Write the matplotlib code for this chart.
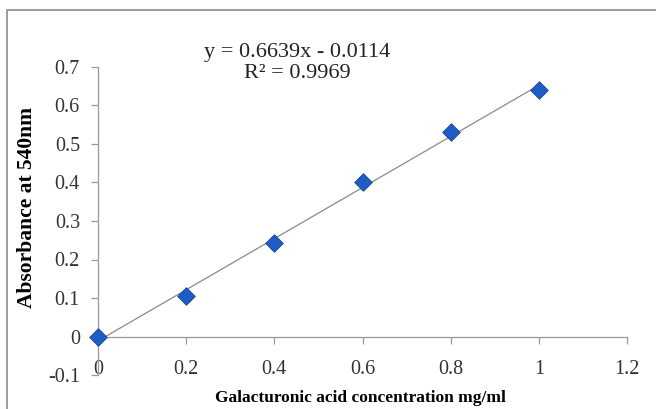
import numpy as np
import matplotlib.pyplot as plt
from matplotlib.patches import Rectangle

# standard curve data
conc = [0, 0.2, 0.4, 0.6, 0.8, 1.0]
absorb = [0.0, 0.104, 0.244, 0.400, 0.530, 0.641]
slope = 0.6639
intercept = -0.0114
r2 = 0.9969

xticks = [0, 0.2, 0.4, 0.6, 0.8, 1, 1.2]
yticks = [-0.1, 0, 0.1, 0.2, 0.3, 0.4, 0.5, 0.6, 0.7]

plt.rcParams['font.family'] = ['Liberation Serif', 'DejaVu Serif']

fig = plt.figure(figsize=(6.56, 4.09), dpi=100)
# chart area border
fig.patches.append(Rectangle((7/656, -0.1), 1.2, 1 - 10/409 + 0.1,
                             transform=fig.transFigure, fill=False,
                             edgecolor='#8c8c8c', lw=1.2))

ax = fig.add_axes([98/656, 1 - 375/409, (627 - 98)/656, (375 - 67)/409])

# trendline
xf = np.array([conc[0], conc[-1]])
ax.plot(xf, slope*xf + intercept, color='#8a8a8a', lw=0.9, zorder=2)
ax.scatter(conc, absorb, marker='D', s=80, color='#1f5cc4',
           edgecolor='#16449a', linewidth=0.6, zorder=3, clip_on=False)

ax.set_xlim(0, 1.2)
ax.set_ylim(-0.1, 0.7)
ax.set_xticks(xticks)
ax.set_xticklabels(['0', '0.2', '0.4', '0.6', '0.8', '1', '1.2'])
ax.set_yticks(yticks)
ax.set_yticklabels(['-0.1', '0', '0.1', '0.2', '0.3', '0.4', '0.5', '0.6', '0.7'])

for s in ['top', 'right']:
    ax.spines[s].set_visible(False)
ax.spines['bottom'].set_position(('data', 0))
for s in ['left', 'bottom']:
    ax.spines[s].set_color('#9a9a9a')
    ax.spines[s].set_linewidth(0.9)
ax.tick_params(axis='both', colors='#9a9a9a', labelcolor='#333333',
               labelsize=14.5, length=5, width=0.9, direction='out')
ax.tick_params(axis='x', pad=12)
ax.tick_params(axis='y', pad=8)

ax.text((297 - 98)/529, (375 - 63)/308, 'y = 0.6639x - 0.0114\nR² = 0.9969',
        transform=ax.transAxes, ha='center', va='center', fontsize=16,
        color='#222222', linespacing=1.1)

fig.text(27/656, 1 - 207/409, 'Absorbance at 540nm', rotation=90,
         ha='center', va='center', fontsize=15.5, fontweight='bold')
fig.text(360/656, 1 - 398/409, 'Galacturonic acid concentration mg/ml',
         ha='center', va='center', fontsize=12.5, fontweight='bold')

fig.savefig('out.png', dpi=100)
